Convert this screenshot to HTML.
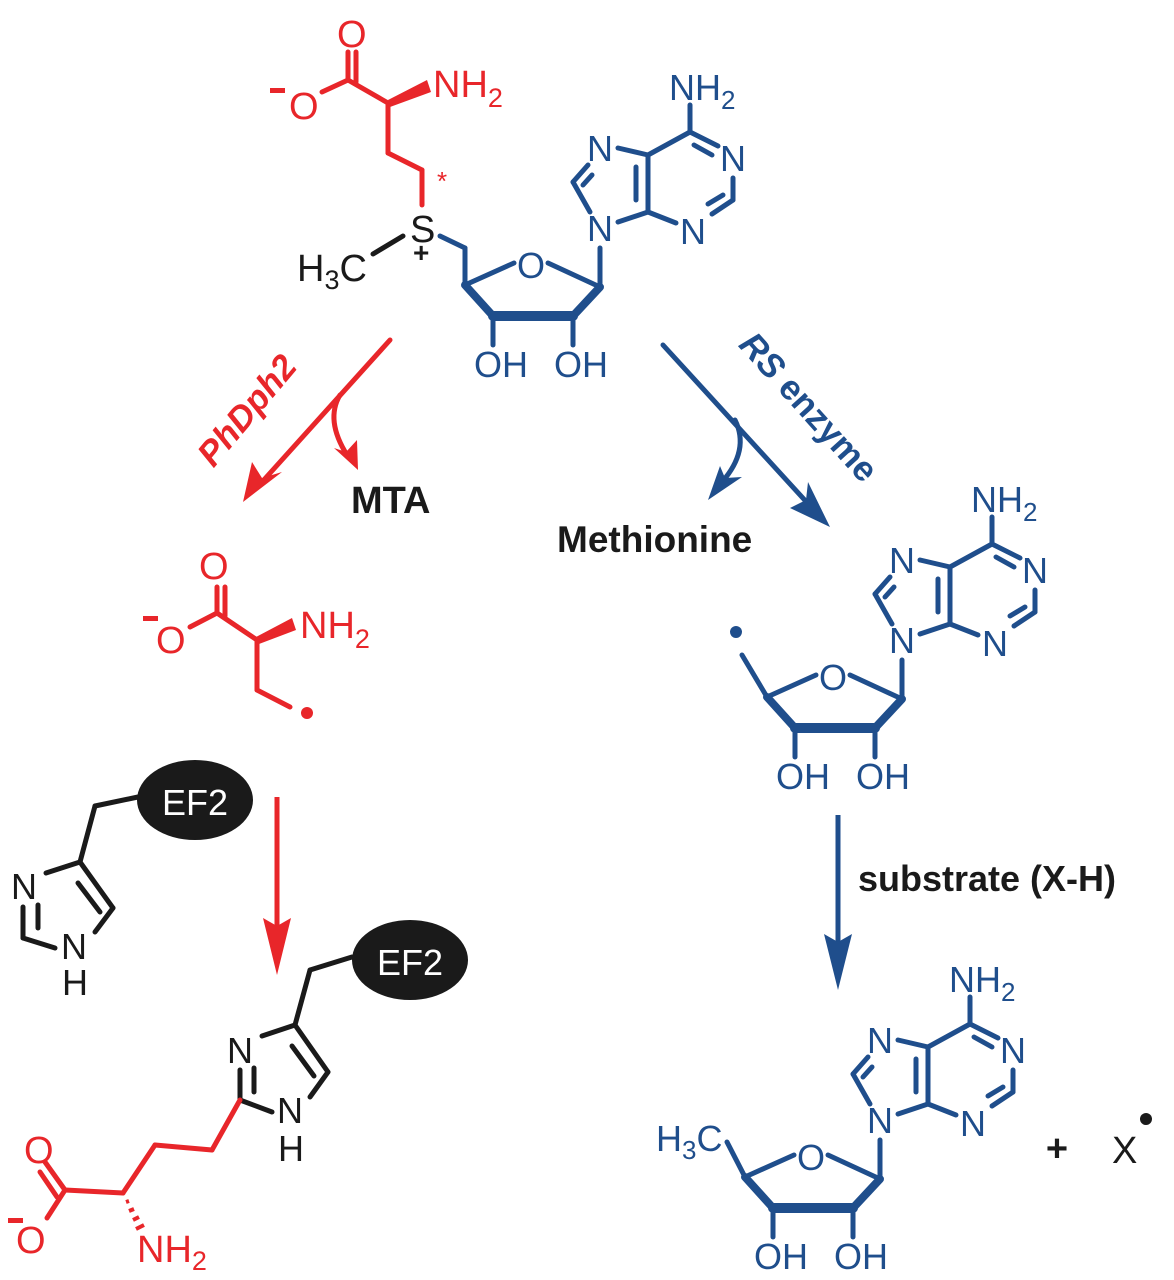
<!DOCTYPE html>
<html><head><meta charset="utf-8">
<style>
html,body{margin:0;padding:0;background:#fff;}
svg{display:block;}
text{font-family:"Liberation Sans",sans-serif;}
</style></head>
<body>
<svg width="1174" height="1280" viewBox="0 0 1174 1280" xmlns="http://www.w3.org/2000/svg">

<!-- ============ TOP SAM ============ -->
<g stroke="#e8262a" stroke-width="5" fill="none" stroke-linecap="round">
  <line x1="422" y1="205" x2="422" y2="170"/>
  <line x1="422" y1="170" x2="388" y2="153"/>
  <line x1="388" y1="153" x2="388" y2="103"/>
  <line x1="388" y1="103" x2="348" y2="80"/>
  <line x1="348" y1="80" x2="348" y2="52"/>
  <line x1="356" y1="82" x2="356" y2="52"/>
  <line x1="348" y1="80" x2="322" y2="92"/>
</g>
<polygon points="388,100 427,80 431,92 390,107" fill="#e8262a"/>
<g fill="#e8262a" font-size="38">
  <text x="337" y="47">O</text>
  <text x="289" y="119">O</text>
  <rect x="270" y="88" width="15" height="5"/>
  <text x="433" y="97">NH<tspan font-size="27" dy="10">2</tspan></text>
  <text x="437" y="190" font-size="26">*</text>
</g>
<g fill="#1a1a1a" font-size="38">
  <text x="410" y="242">S</text>
  <text x="297" y="281">H<tspan font-size="27" dy="8">3</tspan><tspan dy="-8">C</tspan></text>
  <text x="413" y="262" font-size="28" font-weight="bold">+</text>
</g>
<line x1="403" y1="236" x2="373" y2="254" stroke="#1a1a1a" stroke-width="5" stroke-linecap="round"/>

<g stroke="#1f4e8c" stroke-width="5" fill="none" stroke-linecap="round">
  <line x1="440" y1="236" x2="465" y2="248"/>
  <line x1="465" y1="248" x2="465" y2="285"/>
</g>
<g stroke="#1f4e8c" stroke-width="5" fill="none" stroke-linecap="round" stroke-linejoin="round">
  <line x1="465" y1="285" x2="514" y2="263"/>
  <line x1="548" y1="263" x2="600" y2="287"/>
  <line x1="465" y1="285" x2="493" y2="316" stroke-width="8"/>
  <line x1="493" y1="316" x2="573" y2="316" stroke-width="10"/>
  <line x1="573" y1="316" x2="600" y2="287" stroke-width="8"/>
  <line x1="493" y1="316" x2="493" y2="345"/>
  <line x1="573" y1="316" x2="573" y2="345"/>
  <line x1="600" y1="287" x2="600" y2="248"/>
  <line x1="618" y1="222" x2="648" y2="212"/>
  <line x1="648" y1="212" x2="648" y2="155"/>
  <line x1="636" y1="200" x2="636" y2="167"/>
  <line x1="648" y1="155" x2="618" y2="148"/>
  <line x1="573" y1="182" x2="588" y2="165"/>
  <line x1="583" y1="185" x2="592" y2="175"/>
  <line x1="573" y1="182" x2="590" y2="212"/>
  <line x1="648" y1="155" x2="690" y2="132"/>
  <line x1="690" y1="132" x2="690" y2="105"/>
  <line x1="690" y1="132" x2="718" y2="146"/>
  <line x1="694" y1="145" x2="712" y2="155"/>
  <line x1="733" y1="178" x2="733" y2="200"/>
  <line x1="733" y1="200" x2="712" y2="214"/>
  <line x1="723" y1="195" x2="708" y2="204"/>
  <line x1="676" y1="223" x2="648" y2="212"/>
</g>
<g fill="#1f4e8c" font-size="36">
  <text x="517" y="278">O</text>
  <text x="474" y="377">OH</text>
  <text x="554" y="377">OH</text>
  <text x="587" y="241">N</text>
  <text x="587" y="161">N</text>
  <text x="720" y="171">N</text>
  <text x="680" y="244">N</text>
  <text x="669" y="100">NH<tspan font-size="26" dy="9">2</tspan></text>
</g>

<!-- ============ ARROWS TOP ============ -->
<g stroke="#e8262a" stroke-width="5" fill="none" stroke-linecap="round">
  <line x1="390" y1="340" x2="262" y2="482"/>
  <path d="M340,395 Q325,420 347,455"/>
</g>
<polygon points="243,502 252,462 262,478 282,472" fill="#e8262a"/>
<polygon points="358,470 334,448 346,452 357,440" fill="#e8262a"/>
<text x="0" y="0" transform="translate(256,418) rotate(-50)" font-size="35" font-weight="bold" font-style="italic" fill="#e8262a" text-anchor="middle">PhDph2</text>
<text x="351" y="513" font-size="38" font-weight="bold" fill="#1a1a1a">MTA</text>

<g stroke="#1f4e8c" stroke-width="5" fill="none" stroke-linecap="round">
  <line x1="663" y1="345" x2="812" y2="508"/>
  <path d="M735,420 Q750,450 722,482"/>
</g>
<polygon points="830,527 790,508 806,500 808,482" fill="#1f4e8c"/>
<polygon points="708,500 720,466 725,478 742,477" fill="#1f4e8c"/>
<text x="0" y="0" transform="translate(800,415) rotate(48)" font-size="35" font-weight="bold" fill="#1f4e8c" text-anchor="middle"><tspan font-style="italic">RS</tspan> enzyme</text>
<text x="557" y="552" font-size="37" font-weight="bold" fill="#1a1a1a">Methionine</text>

<!-- ============ RADICAL FRAGMENT LEFT ============ -->
<g stroke="#e8262a" stroke-width="5" fill="none" stroke-linecap="round">
  <line x1="217" y1="613" x2="217" y2="587"/>
  <line x1="225" y1="616" x2="225" y2="587"/>
  <line x1="217" y1="613" x2="190" y2="627"/>
  <line x1="217" y1="613" x2="257" y2="640"/>
  <line x1="257" y1="640" x2="257" y2="690"/>
  <line x1="257" y1="690" x2="290" y2="707"/>
</g>
<polygon points="256,637 292,618 296,630 259,644" fill="#e8262a"/>
<circle cx="307" cy="713" r="6" fill="#e8262a"/>
<g fill="#e8262a" font-size="38">
  <text x="199" y="579">O</text>
  <text x="156" y="653">O</text>
  <rect x="143" y="616" width="15" height="5"/>
  <text x="300" y="638">NH<tspan font-size="27" dy="10">2</tspan></text>
</g>

<!-- ============ ADENOSINE RADICAL ============ -->
<g transform="translate(302,412)">
<g stroke="#1f4e8c" stroke-width="5" fill="none" stroke-linecap="round" stroke-linejoin="round">
  <line x1="465" y1="285" x2="440" y2="243"/>
  <line x1="465" y1="285" x2="514" y2="263"/>
  <line x1="548" y1="263" x2="600" y2="287"/>
  <line x1="465" y1="285" x2="493" y2="316" stroke-width="8"/>
  <line x1="493" y1="316" x2="573" y2="316" stroke-width="10"/>
  <line x1="573" y1="316" x2="600" y2="287" stroke-width="8"/>
  <line x1="493" y1="316" x2="493" y2="345"/>
  <line x1="573" y1="316" x2="573" y2="345"/>
  <line x1="600" y1="287" x2="600" y2="248"/>
  <line x1="618" y1="222" x2="648" y2="212"/>
  <line x1="648" y1="212" x2="648" y2="155"/>
  <line x1="636" y1="200" x2="636" y2="167"/>
  <line x1="648" y1="155" x2="618" y2="148"/>
  <line x1="573" y1="182" x2="588" y2="165"/>
  <line x1="583" y1="185" x2="592" y2="175"/>
  <line x1="573" y1="182" x2="590" y2="212"/>
  <line x1="648" y1="155" x2="690" y2="132"/>
  <line x1="690" y1="132" x2="690" y2="105"/>
  <line x1="690" y1="132" x2="718" y2="146"/>
  <line x1="694" y1="145" x2="712" y2="155"/>
  <line x1="733" y1="178" x2="733" y2="200"/>
  <line x1="733" y1="200" x2="712" y2="214"/>
  <line x1="723" y1="195" x2="708" y2="204"/>
  <line x1="676" y1="223" x2="648" y2="212"/>
</g>
<circle cx="434" cy="220" r="6" fill="#1f4e8c"/>
<g fill="#1f4e8c" font-size="36">
  <text x="517" y="278">O</text>
  <text x="474" y="377">OH</text>
  <text x="554" y="377">OH</text>
  <text x="587" y="241">N</text>
  <text x="587" y="161">N</text>
  <text x="720" y="171">N</text>
  <text x="680" y="244">N</text>
  <text x="669" y="100">NH<tspan font-size="26" dy="9">2</tspan></text>
</g>
</g>

<!-- ============ HISTIDINE 1 ============ -->
<ellipse cx="195" cy="800" rx="58" ry="40" fill="#1a1a1a"/>
<text x="195" y="815" font-size="36" fill="#fff" text-anchor="middle">EF2</text>
<g stroke="#1a1a1a" stroke-width="5" fill="none" stroke-linecap="round">
  <line x1="138" y1="797" x2="95" y2="806"/>
  <line x1="95" y1="806" x2="80" y2="862"/>
  <line x1="80" y1="862" x2="46" y2="873"/>
  <line x1="80" y1="862" x2="113" y2="908"/>
  <line x1="78" y1="883" x2="100" y2="912"/>
  <line x1="113" y1="908" x2="95" y2="932"/>
  <line x1="23" y1="907" x2="23" y2="938"/>
  <line x1="38" y1="905" x2="38" y2="928"/>
  <line x1="23" y1="938" x2="55" y2="948"/>
</g>
<g fill="#1a1a1a" font-size="36">
  <text x="11" y="899">N</text>
  <text x="61" y="959">N</text>
  <text x="62" y="995">H</text>
</g>

<line x1="277" y1="797" x2="277" y2="930" stroke="#e8262a" stroke-width="5"/>
<polygon points="277,975 263,918 277,926 291,918" fill="#e8262a"/>

<!-- ============ HISTIDINE 2 ============ -->
<ellipse cx="410" cy="960" rx="58" ry="40" fill="#1a1a1a"/>
<text x="410" y="975" font-size="36" fill="#fff" text-anchor="middle">EF2</text>
<g stroke="#1a1a1a" stroke-width="5" fill="none" stroke-linecap="round">
  <line x1="352" y1="957" x2="310" y2="970"/>
  <line x1="310" y1="970" x2="295" y2="1025"/>
  <line x1="295" y1="1025" x2="262" y2="1036"/>
  <line x1="295" y1="1025" x2="328" y2="1072"/>
  <line x1="292" y1="1046" x2="314" y2="1076"/>
  <line x1="328" y1="1072" x2="310" y2="1097"/>
  <line x1="240" y1="1070" x2="240" y2="1100"/>
  <line x1="254" y1="1068" x2="254" y2="1092"/>
  <line x1="240" y1="1100" x2="272" y2="1112"/>
</g>
<g fill="#1a1a1a" font-size="36">
  <text x="227" y="1063">N</text>
  <text x="277" y="1123">N</text>
  <text x="278" y="1161">H</text>
</g>
<g stroke="#e8262a" stroke-width="5" fill="none" stroke-linecap="round">
  <line x1="240" y1="1100" x2="212" y2="1150"/>
  <line x1="212" y1="1150" x2="155" y2="1145"/>
  <line x1="155" y1="1145" x2="123" y2="1193"/>
  <line x1="123" y1="1193" x2="65" y2="1190"/>
  <line x1="65" y1="1190" x2="45" y2="1162"/>
  <line x1="57" y1="1197" x2="40" y2="1172"/>
  <line x1="65" y1="1190" x2="47" y2="1218"/>
</g>
<g stroke="#e8262a" stroke-width="4">
  <line x1="126" y1="1202" x2="129" y2="1201"/>
  <line x1="129" y1="1211" x2="134" y2="1209"/>
  <line x1="133" y1="1220" x2="139" y2="1217"/>
  <line x1="136" y1="1229" x2="144" y2="1225"/>
</g>
<g fill="#e8262a" font-size="38">
  <text x="24" y="1163">O</text>
  <text x="16" y="1253">O</text>
  <rect x="8" y="1218" width="15" height="5"/>
  <text x="137" y="1262">NH<tspan font-size="27" dy="8">2</tspan></text>
</g>

<!-- ============ BLUE VERTICAL ARROW ============ -->
<line x1="838" y1="815" x2="838" y2="950" stroke="#1f4e8c" stroke-width="5"/>
<polygon points="838,990 824,934 838,942 852,934" fill="#1f4e8c"/>
<text x="858" y="891" font-size="36" font-weight="bold" fill="#1a1a1a">substrate (X-H)</text>

<!-- ============ 5'-deoxyadenosine ============ -->
<g transform="translate(280,892)">
<g stroke="#1f4e8c" stroke-width="5" fill="none" stroke-linecap="round" stroke-linejoin="round">
  <line x1="465" y1="285" x2="447" y2="250"/>
  <line x1="465" y1="285" x2="514" y2="263"/>
  <line x1="548" y1="263" x2="600" y2="287"/>
  <line x1="465" y1="285" x2="493" y2="316" stroke-width="8"/>
  <line x1="493" y1="316" x2="573" y2="316" stroke-width="10"/>
  <line x1="573" y1="316" x2="600" y2="287" stroke-width="8"/>
  <line x1="493" y1="316" x2="493" y2="345"/>
  <line x1="573" y1="316" x2="573" y2="345"/>
  <line x1="600" y1="287" x2="600" y2="248"/>
  <line x1="618" y1="222" x2="648" y2="212"/>
  <line x1="648" y1="212" x2="648" y2="155"/>
  <line x1="636" y1="200" x2="636" y2="167"/>
  <line x1="648" y1="155" x2="618" y2="148"/>
  <line x1="573" y1="182" x2="588" y2="165"/>
  <line x1="583" y1="185" x2="592" y2="175"/>
  <line x1="573" y1="182" x2="590" y2="212"/>
  <line x1="648" y1="155" x2="690" y2="132"/>
  <line x1="690" y1="132" x2="690" y2="105"/>
  <line x1="690" y1="132" x2="718" y2="146"/>
  <line x1="694" y1="145" x2="712" y2="155"/>
  <line x1="733" y1="178" x2="733" y2="200"/>
  <line x1="733" y1="200" x2="712" y2="214"/>
  <line x1="723" y1="195" x2="708" y2="204"/>
  <line x1="676" y1="223" x2="648" y2="212"/>
</g>
<g fill="#1f4e8c" font-size="36">
  <text x="517" y="278">O</text>
  <text x="474" y="377">OH</text>
  <text x="554" y="377">OH</text>
  <text x="587" y="241">N</text>
  <text x="587" y="161">N</text>
  <text x="720" y="171">N</text>
  <text x="680" y="244">N</text>
  <text x="669" y="100">NH<tspan font-size="26" dy="9">2</tspan></text>
  <text x="376" y="259">H<tspan font-size="26" dy="8">3</tspan><tspan dy="-8">C</tspan></text>
</g>
</g>

<text x="1057" y="1161" font-size="38" font-weight="bold" fill="#1a1a1a" text-anchor="middle">+</text>
<text x="1112" y="1163" font-size="38" fill="#1a1a1a">X</text>
<circle cx="1146" cy="1119" r="6" fill="#1a1a1a"/>
</svg>
</body></html>
